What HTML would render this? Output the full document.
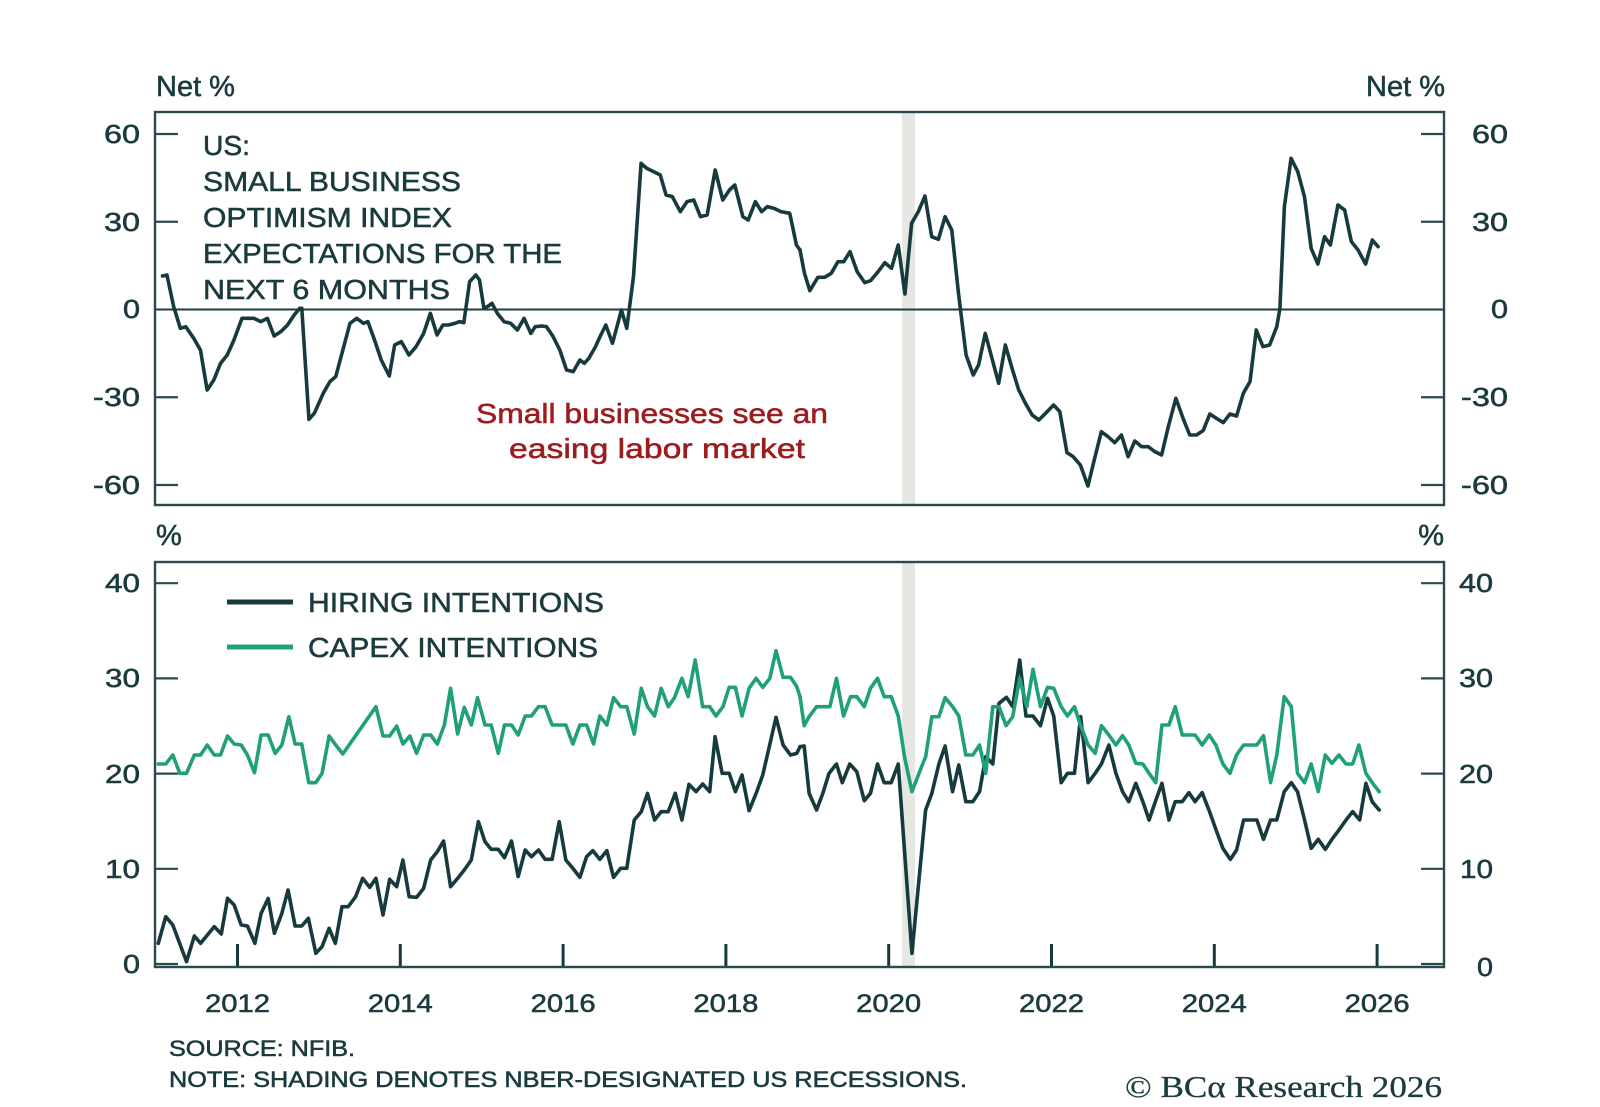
<!DOCTYPE html>
<html>
<head>
<meta charset="utf-8">
<style>
  html,body{margin:0;padding:0;background:#ffffff;}
  svg{display:block;}
  text{font-family:"Liberation Sans",Arial,sans-serif;fill:#1b3b3e;stroke:#1b3b3e;stroke-width:0.55px;}
</style>
</head>
<body>
<svg width="1600" height="1107" viewBox="0 0 1600 1107" xmlns="http://www.w3.org/2000/svg">
  <rect x="0" y="0" width="1600" height="1107" fill="#ffffff"/>

  <!-- recession shading -->
  <rect x="902" y="113" width="13" height="391" fill="#e6e6e3"/>
  <rect x="902" y="563" width="13" height="403" fill="#e6e6e3"/>

  <!-- ===== TOP PANEL ===== -->
  <line x1="155" y1="309.5" x2="1444" y2="309.5" stroke="#1d3d41" stroke-width="2"/>
  <g stroke="#2a4a4e" stroke-width="2.2">
    <line x1="155" y1="134" x2="178" y2="134"/>
    <line x1="155" y1="221.75" x2="178" y2="221.75"/>
    <line x1="155" y1="397.25" x2="178" y2="397.25"/>
    <line x1="155" y1="485" x2="178" y2="485"/>
    <line x1="1421" y1="134" x2="1444" y2="134"/>
    <line x1="1421" y1="221.75" x2="1444" y2="221.75"/>
    <line x1="1421" y1="397.25" x2="1444" y2="397.25"/>
    <line x1="1421" y1="485" x2="1444" y2="485"/>
  </g>

  <!-- top series -->
  <g fill="none" stroke="#163a3d" stroke-width="3.6" stroke-linejoin="round" stroke-linecap="round">
    <polyline vector-effect="non-scaling-stroke" transform="translate(100,60) scale(0.44643,0.33333)"
      points="140,648 150,645 165,740 180,805 192,800 210,835 225,870 240,990 255,960 270,910 285,885 300,840 318,775 345,775 360,785 375,775 390,828 405,815 420,795 435,765 447,745 452,745 468,1078 480,1060 500,1000 515,965 528,950 545,865 560,790 575,775 590,790 600,785 615,840 630,900 648,948 660,855 675,845 692,885 708,860 725,820 740,760 755,825 768,795 780,795 795,790 805,785 815,788 828,665 842,645 850,660 860,745 870,738 878,730 890,760 905,785 920,790 935,810 950,775 965,820 975,800 990,798 1000,800 1015,830 1030,870 1045,930 1060,935 1075,900 1085,910 1095,895 1110,860 1120,830 1133,795 1148,850 1160,790 1168,750 1180,805 1195,650 1212,310 1225,325 1240,335 1255,345 1268,405 1282,410 1300,455 1315,425 1330,420 1345,470 1360,465 1378,330 1395,420 1410,390 1422,375 1440,470 1452,480 1468,425 1482,455 1495,440 1510,445 1525,455 1545,460 1560,555 1568,570"/>
    <polyline vector-effect="non-scaling-stroke" transform="translate(800,60) scale(0.44643,0.33333)"
      points="0,570 10,640 22,692 40,652 55,652 70,640 85,605 98,605 112,575 128,635 145,668 158,662 175,635 190,608 205,625 220,555 235,702 250,490 265,455 280,408 295,530 310,538 325,470 340,510 355,700 372,885 388,945 400,915 415,820 430,895 445,970 460,855 475,925 490,990 505,1030 520,1065 535,1080 550,1060 568,1035 582,1055 598,1178 612,1190 628,1215 645,1278 660,1195 675,1115 690,1130 705,1148 720,1125 735,1190 750,1143 765,1160 780,1160 795,1175 810,1185 825,1100 842,1015 858,1075 873,1125 888,1125 903,1112 918,1062 933,1075 948,1088 963,1062 978,1068 993,1000 1008,965 1022,810 1037,860 1052,855 1068,800 1075,745 1085,440 1100,295 1115,335 1130,410 1145,565 1160,612 1175,530 1188,555 1205,435 1220,450 1235,545 1250,570 1267,612 1282,540 1295,560"/>
  </g>

  <rect x="155" y="112" width="1289" height="393" fill="none" stroke="#2a4a4e" stroke-width="2.4"/>

  <!-- top labels -->
  <text x="156" y="96" font-size="29">Net %</text>
  <text x="1445" y="96" font-size="29" text-anchor="end">Net %</text>

  <g font-size="26">
    <text x="140" y="143" text-anchor="end" textLength="36" lengthAdjust="spacingAndGlyphs">60</text>
    <text x="140" y="231" text-anchor="end" textLength="36" lengthAdjust="spacingAndGlyphs">30</text>
    <text x="140" y="318" text-anchor="end" textLength="17" lengthAdjust="spacingAndGlyphs">0</text>
    <text x="140" y="406" text-anchor="end" textLength="47" lengthAdjust="spacingAndGlyphs">-30</text>
    <text x="140" y="494" text-anchor="end" textLength="47" lengthAdjust="spacingAndGlyphs">-60</text>
    <text x="1508" y="143" text-anchor="end" textLength="36" lengthAdjust="spacingAndGlyphs">60</text>
    <text x="1508" y="231" text-anchor="end" textLength="36" lengthAdjust="spacingAndGlyphs">30</text>
    <text x="1508" y="318" text-anchor="end" textLength="17" lengthAdjust="spacingAndGlyphs">0</text>
    <text x="1508" y="406" text-anchor="end" textLength="47" lengthAdjust="spacingAndGlyphs">-30</text>
    <text x="1508" y="494" text-anchor="end" textLength="47" lengthAdjust="spacingAndGlyphs">-60</text>
  </g>

  <g font-size="27.5">
    <text x="203" y="155" textLength="47" lengthAdjust="spacingAndGlyphs">US:</text>
    <text x="203" y="191" textLength="258" lengthAdjust="spacingAndGlyphs">SMALL BUSINESS</text>
    <text x="203" y="227" textLength="249" lengthAdjust="spacingAndGlyphs">OPTIMISM INDEX</text>
    <text x="203" y="263" textLength="359" lengthAdjust="spacingAndGlyphs">EXPECTATIONS FOR THE</text>
    <text x="203" y="299" textLength="247" lengthAdjust="spacingAndGlyphs">NEXT 6 MONTHS</text>
  </g>

  <g font-size="28">
    <text x="476" y="423" textLength="352" lengthAdjust="spacingAndGlyphs" style="fill:#9c1c1f;stroke:#9c1c1f">Small businesses see an</text>
    <text x="509" y="458" textLength="296" lengthAdjust="spacingAndGlyphs" style="fill:#9c1c1f;stroke:#9c1c1f">easing labor market</text>
  </g>

  <!-- ===== BOTTOM PANEL ===== -->
  <g stroke="#2a4a4e" stroke-width="2.2">
    <line x1="155" y1="583.2" x2="178" y2="583.2"/>
    <line x1="155" y1="678.4" x2="178" y2="678.4"/>
    <line x1="155" y1="773.6" x2="178" y2="773.6"/>
    <line x1="155" y1="868.8" x2="178" y2="868.8"/>
    <line x1="155" y1="964" x2="178" y2="964"/>
    <line x1="1421" y1="583.2" x2="1444" y2="583.2"/>
    <line x1="1421" y1="678.4" x2="1444" y2="678.4"/>
    <line x1="1421" y1="773.6" x2="1444" y2="773.6"/>
    <line x1="1421" y1="868.8" x2="1444" y2="868.8"/>
    <line x1="1421" y1="964" x2="1444" y2="964"/>
  </g>
  <g stroke="#163a3d" stroke-width="3">
    <line x1="237.5" y1="944" x2="237.5" y2="967"/>
    <line x1="400.3" y1="944" x2="400.3" y2="967"/>
    <line x1="563.1" y1="944" x2="563.1" y2="967"/>
    <line x1="725.9" y1="944" x2="725.9" y2="967"/>
    <line x1="888.7" y1="944" x2="888.7" y2="967"/>
    <line x1="1051.5" y1="944" x2="1051.5" y2="967"/>
    <line x1="1214.3" y1="944" x2="1214.3" y2="967"/>
    <line x1="1377.1" y1="944" x2="1377.1" y2="967"/>
  </g>

  <!-- hiring -->
  <g fill="none" stroke="#163a3d" stroke-width="3.6" stroke-linejoin="round" stroke-linecap="round">
    <polyline vector-effect="non-scaling-stroke" transform="translate(150,560) scale(0.41459,0.33333)"
      points="20,1150 38,1070 55,1095 88,1205 107,1128 122,1150 155,1100 172,1122 187,1015 203,1035 220,1095 235,1098 253,1150 268,1060 285,1015 300,1120 318,1060 333,990 350,1098 366,1098 382,1075 400,1180 415,1160 432,1105 447,1150 463,1040 478,1040 496,1010 513,955 530,982 545,955 562,1065 578,958 595,980 610,900 625,1010 643,1012 660,985 677,900 693,875 708,843 725,980 742,955 758,930 775,900 792,785 808,845 823,868 840,868 855,893 872,843 888,950 905,870 920,890 937,870 953,898 970,898 987,785 1003,900 1020,925 1037,952 1053,890 1068,872 1085,898 1102,872 1118,952 1135,925 1150,925 1168,780 1185,755 1200,700 1217,780 1233,755 1250,755 1267,700 1283,780 1300,673 1317,695 1333,672 1350,695 1363,530 1380,640 1397,640 1412,695 1428,645 1445,752 1462,700 1478,645 1510,472 1527,555 1545,585 1560,580 1568,560"/>
    <polyline vector-effect="non-scaling-stroke" transform="translate(800,560) scale(0.41459,0.33333)"
      points="0,560 10,558 22,700 40,750 55,700 70,640 88,612 102,668 120,612 137,635 155,722 170,700 187,612 203,668 220,668 237,612 270,1180 303,750 318,700 335,612 350,558 368,695 383,615 400,725 417,725 433,695 448,590 465,612 480,430 498,412 513,440 530,300 545,468 562,468 580,497 597,415 612,468 630,668 645,640 662,640 677,470 695,668 712,640 727,612 745,555 762,640 778,695 793,725 810,670 827,725 842,780 857,725 873,670 890,780 905,725 922,725 938,698 953,725 970,698 987,752 1003,808 1020,865 1038,898 1053,870 1070,780 1087,780 1102,780 1118,838 1135,780 1150,780 1168,695 1185,668 1200,695 1217,780 1233,865 1250,838 1267,868 1283,838 1300,810 1317,780 1333,755 1350,780 1365,670 1380,725 1397,750"/>
  </g>

  <!-- capex -->
  <g fill="none" stroke="#20a07a" stroke-width="3.6" stroke-linejoin="round" stroke-linecap="round">
    <polyline vector-effect="non-scaling-stroke" transform="translate(150,560) scale(0.41459,0.33333)"
      points="20,612 38,612 55,585 72,640 88,640 107,585 122,585 138,555 155,585 170,585 187,528 203,552 220,555 235,585 252,638 268,525 285,525 302,580 318,555 335,470 350,552 366,552 383,668 400,668 415,640 432,528 448,555 465,582 545,440 562,528 578,528 595,498 610,552 627,528 643,580 660,525 677,525 693,552 710,495 725,385 742,522 758,442 775,495 790,413 808,495 823,495 840,580 855,495 872,495 888,525 905,468 920,468 937,440 953,440 970,495 987,495 1003,495 1020,552 1037,495 1053,495 1070,552 1085,468 1102,495 1118,413 1135,440 1150,440 1168,522 1185,385 1200,440 1217,468 1233,385 1250,440 1265,413 1283,355 1298,410 1315,300 1333,440 1350,440 1365,468 1382,440 1397,382 1412,382 1428,468 1445,385 1462,355 1478,382 1495,355 1510,272 1527,352 1545,352 1560,380 1568,410"/>
    <polyline vector-effect="non-scaling-stroke" transform="translate(800,560) scale(0.41459,0.33333)"
      points="0,410 10,497 22,470 40,440 55,440 72,440 88,355 105,468 122,410 137,410 155,440 170,385 187,355 203,410 220,410 237,468 252,590 270,695 287,640 303,590 318,470 335,470 350,413 368,440 383,468 400,585 417,585 433,555 448,640 465,440 480,440 497,497 513,470 530,355 547,440 562,328 580,440 597,382 612,385 630,440 645,468 662,440 677,497 695,555 712,580 727,497 745,525 762,555 778,527 793,555 810,610 827,612 842,640 858,668 873,495 890,495 905,440 922,525 938,525 953,525 970,555 987,525 1003,555 1020,612 1037,640 1053,585 1070,555 1087,555 1102,555 1118,527 1135,668 1150,585 1168,410 1185,440 1200,640 1217,668 1233,612 1250,695 1267,585 1283,610 1300,585 1317,612 1333,612 1348,555 1365,640 1380,668 1397,695"/>
  </g>

  <rect x="155" y="562" width="1289" height="405" fill="none" stroke="#2a4a4e" stroke-width="2.4"/>

  <!-- bottom labels -->
  <text x="156" y="545" font-size="29">%</text>
  <text x="1444" y="545" font-size="29" text-anchor="end">%</text>

  <g font-size="26">
    <text x="140" y="592" text-anchor="end" textLength="35" lengthAdjust="spacingAndGlyphs">40</text>
    <text x="140" y="687" text-anchor="end" textLength="35" lengthAdjust="spacingAndGlyphs">30</text>
    <text x="140" y="783" text-anchor="end" textLength="35" lengthAdjust="spacingAndGlyphs">20</text>
    <text x="140" y="878" text-anchor="end" textLength="35" lengthAdjust="spacingAndGlyphs">10</text>
    <text x="140" y="973" text-anchor="end" textLength="17" lengthAdjust="spacingAndGlyphs">0</text>
    <text x="1493" y="592" text-anchor="end" textLength="34" lengthAdjust="spacingAndGlyphs">40</text>
    <text x="1493" y="687" text-anchor="end" textLength="34" lengthAdjust="spacingAndGlyphs">30</text>
    <text x="1493" y="783" text-anchor="end" textLength="34" lengthAdjust="spacingAndGlyphs">20</text>
    <text x="1493" y="878" text-anchor="end" textLength="33" lengthAdjust="spacingAndGlyphs">10</text>
    <text x="1493" y="976" text-anchor="end" textLength="16" lengthAdjust="spacingAndGlyphs">0</text>
  </g>

  <!-- legend -->
  <line x1="227" y1="602" x2="293" y2="602" stroke="#163a3d" stroke-width="5"/>
  <line x1="227" y1="647" x2="293" y2="647" stroke="#20a07a" stroke-width="5"/>
  <text x="308" y="612" font-size="28" textLength="296" lengthAdjust="spacingAndGlyphs">HIRING INTENTIONS</text>
  <text x="308" y="657" font-size="28" textLength="290" lengthAdjust="spacingAndGlyphs">CAPEX INTENTIONS</text>

  <!-- x axis labels -->
  <g font-size="25" text-anchor="middle">
    <text x="237.5" y="1012" textLength="65" lengthAdjust="spacingAndGlyphs">2012</text>
    <text x="400.3" y="1012" textLength="65" lengthAdjust="spacingAndGlyphs">2014</text>
    <text x="563.1" y="1012" textLength="65" lengthAdjust="spacingAndGlyphs">2016</text>
    <text x="725.9" y="1012" textLength="65" lengthAdjust="spacingAndGlyphs">2018</text>
    <text x="888.7" y="1012" textLength="65" lengthAdjust="spacingAndGlyphs">2020</text>
    <text x="1051.5" y="1012" textLength="65" lengthAdjust="spacingAndGlyphs">2022</text>
    <text x="1214.3" y="1012" textLength="65" lengthAdjust="spacingAndGlyphs">2024</text>
    <text x="1377.1" y="1012" textLength="65" lengthAdjust="spacingAndGlyphs">2026</text>
  </g>

  <!-- footer -->
  <text x="169" y="1056" font-size="22" textLength="186" lengthAdjust="spacingAndGlyphs">SOURCE: NFIB.</text>
  <text x="169" y="1087" font-size="22" textLength="798" lengthAdjust="spacingAndGlyphs">NOTE: SHADING DENOTES NBER-DESIGNATED US RECESSIONS.</text>

  <text x="1125" y="1097" font-size="31" textLength="317" lengthAdjust="spacingAndGlyphs" style="font-family:'Liberation Serif','DejaVu Serif',serif;fill:#1b3b3e;stroke-width:0.3px">© BCα Research 2026</text>
</svg>
</body>
</html>
